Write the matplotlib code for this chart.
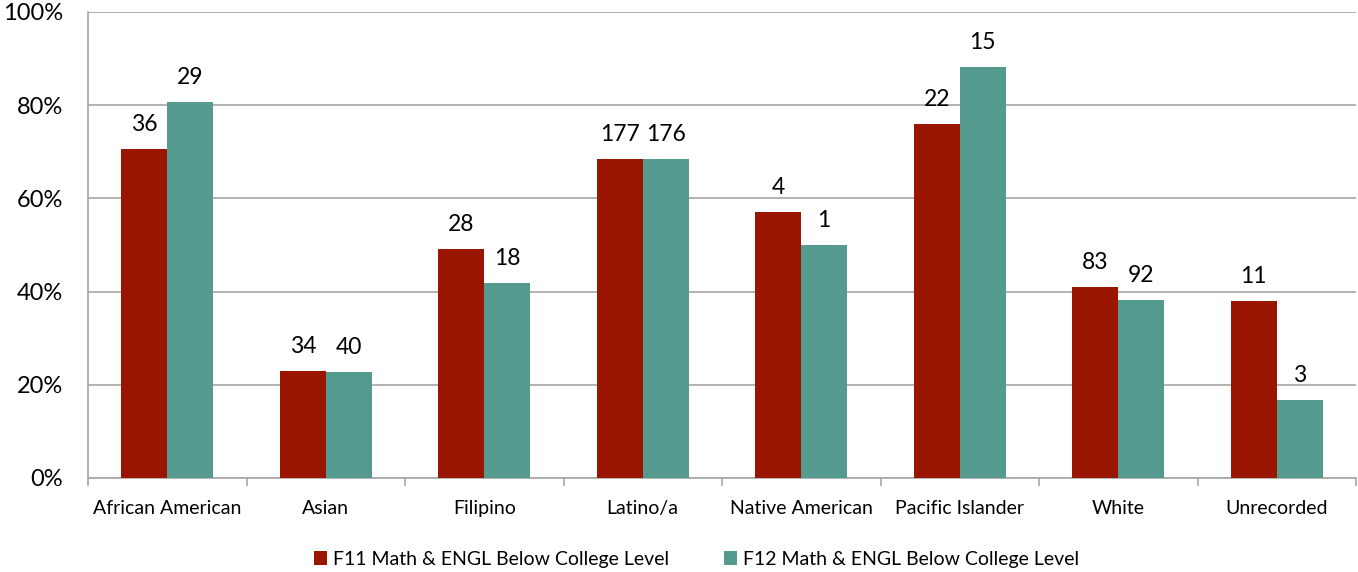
import numpy as np
import matplotlib.pyplot as plt
from matplotlib.ticker import FuncFormatter

plt.rcParams['font.family'] = ['Lato', 'DejaVu Sans']

categories = ['African American', 'Asian', 'Filipino', 'Latino/a', 'Native American',
              'Pacific Islander', 'White', 'Unrecorded']
f11_pct = [70.6, 23.0, 49.1, 68.5, 57.1, 76.0, 41.0, 38.0]
f12_pct = [80.7, 22.7, 41.8, 68.5, 50.0, 88.2, 38.2, 16.7]
f11_n = [36, 34, 28, 177, 4, 22, 83, 11]
f12_n = [29, 40, 18, 176, 1, 15, 92, 3]
labels = ['F11 Math & ENGL Below College Level', 'F12 Math & ENGL Below College Level']

red = '#9a1500'
teal = '#559a8e'
grid = '#a6a6a6'

fig = plt.figure(figsize=(13.58, 5.72), dpi=100)
ax = fig.add_axes([88 / 1358, 1 - 478 / 572, (1356 - 88) / 1358, (478 - 12) / 572])

x = np.arange(len(categories))
w = 0.29
b1 = ax.bar(x - w / 2, f11_pct, w, color=red, label=labels[0], zorder=3)
b2 = ax.bar(x + w / 2, f12_pct, w, color=teal, label=labels[1], zorder=3)

# counts above each bar
for bars, ns in ((b1, f11_n), (b2, f12_n)):
    for r, n in zip(bars, ns):
        ax.annotate(str(n), (r.get_x() + r.get_width() / 2, r.get_height()),
                    xytext=(0, 10), textcoords='offset points', ha='center', va='bottom',
                    fontsize=16.5, color='black')

ax.set_xlim(-0.5, len(categories) - 0.5)
ax.set_ylim(0, 100)
ax.set_yticks(range(0, 101, 20))
ax.yaxis.set_major_formatter(FuncFormatter(lambda v, p: f'{int(v)}%'))
ax.set_xticks(x)
ax.set_xticklabels(categories, fontsize=14)
ax.set_xticks(np.arange(-0.5, len(categories)), minor=True)
ax.tick_params(axis='x', which='major', length=0, pad=16)
ax.tick_params(axis='x', which='minor', length=6, color=grid, width=1.2)
ax.tick_params(axis='y', length=0, labelsize=17, pad=18)
ax.grid(axis='y', color=grid, linewidth=1.2, zorder=0)
for s in ['top', 'right']:
    ax.spines[s].set_visible(False)
for s in ['left', 'bottom']:
    ax.spines[s].set_color(grid)
    ax.spines[s].set_linewidth(1.2)

fig.legend(handles=[b1, b2], loc='center', bbox_to_anchor=(0.513, 1 - 559 / 572), ncol=2,
           frameon=False, fontsize=14, handlelength=0.7, handleheight=0.7,
           handletextpad=0.3, columnspacing=2.8)

fig.savefig('out.png', dpi=100)
